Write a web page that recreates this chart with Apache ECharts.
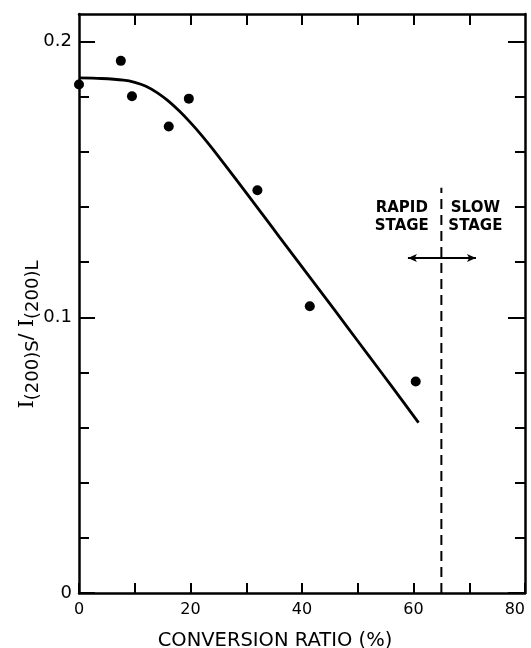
<!DOCTYPE html>
<html>
<head>
<meta charset="utf-8">
<script src="https://cdn.jsdelivr.net/npm/echarts@6/dist/echarts.min.js"></script>
<style>
html,body{margin:0;padding:0;background:#fff;}
#chart{width:531px;height:648px;}
</style>
</head>
<body>
<div id="chart"></div>
<script>
// Measured data points: conversion ratio (%) vs I(200)S / I(200)L
const pointX = [0, 7.5, 9.5, 16.1, 19.7, 32.0, 41.4, 60.4];
const pointY = [0.1844, 0.193, 0.1802, 0.1692, 0.1793, 0.1461, 0.104, 0.0767];

// Fitted curve drawn in the figure
const curveX = [0, 4, 8, 10, 12, 14, 16, 18, 20, 22, 24, 28, 32, 36, 40, 44, 48, 52, 56, 60.9];
const curveY = [0.1868, 0.1866, 0.1860, 0.1852, 0.1838, 0.1815, 0.1785, 0.1748, 0.1706, 0.1660, 0.1610, 0.1505, 0.1398, 0.1290, 0.1183, 0.1076, 0.0968, 0.0860, 0.0752, 0.0618];

// Stage boundary and arrow
const boundaryX = [65, 65];
const boundaryY = [0, 0.147];
const arrowX = [59.0, 71.2];
const arrowY = 0.1215;

// Tick values / labels
const xTickLabels = [0, 20, 40, 60, 80];
const yMajorTicks = [0, 0.1, 0.2];
const yMinorTicks = [0.02, 0.04, 0.06, 0.08, 0.12, 0.14, 0.16, 0.18];
const xTopTicks = [10, 20, 30, 40, 50, 60, 70];

const xTitle = 'CONVERSION RATIO (%)';
const rapidLabel = 'RAPID\nSTAGE';
const slowLabel = 'SLOW\nSTAGE';
const rapidPos = [57.9, 0.1365];
const slowPos = [71.1, 0.1365];

const FONT = 'DejaVu Sans';
const INK = '#000';

const chart = echarts.init(document.getElementById('chart'), null, {renderer: 'canvas'});

function yAxisDef(pos, ticks, len, showLine, showLabel) {
  return {
    type: 'value', position: pos, offset: 0, min: 0, max: 0.21, interval: 0.02,
    splitLine: {show: false},
    axisLine: {show: showLine, onZero: false, lineStyle: {color: INK, width: 2.5}},
    axisTick: {show: true, inside: true, length: len, customValues: ticks, lineStyle: {color: INK, width: 2}},
    axisLabel: showLabel ? {
      show: true, customValues: yMajorTicks, margin: 7, color: INK,
      fontFamily: FONT, fontSize: 18,
      formatter: v => (v === 0 ? '0' : v.toFixed(1))
    } : {show: false}
  };
}

const option = {
  backgroundColor: '#fff',
  animation: false,
  grid: {left: 79, right: 6, top: 14, bottom: 55, containLabel: false, outerBoundsMode: 'none'},
  xAxis: [
    {
      type: 'value', position: 'bottom', min: 0, max: 80, interval: 10,
      splitLine: {show: false},
      axisLine: {onZero: false, lineStyle: {color: INK, width: 2.5}},
      axisTick: {inside: true, length: 10, lineStyle: {color: INK, width: 2}},
      axisLabel: {customValues: xTickLabels, margin: 9, color: INK, fontFamily: FONT, fontSize: 16, alignMaxLabel: 'right'},
      name: xTitle, nameLocation: 'middle', nameGap: 38, nameMoveOverlap: false,
      nameTextStyle: {color: INK, fontFamily: FONT, fontSize: 19.5, padding: [0, 54, 0, 0]}
    },
    {
      type: 'value', position: 'top', min: 0, max: 80, interval: 10,
      splitLine: {show: false},
      axisLine: {onZero: false, lineStyle: {color: INK, width: 2.5}},
      axisTick: {inside: true, length: 11, customValues: xTopTicks, lineStyle: {color: INK, width: 2}},
      axisLabel: {show: false}
    }
  ],
  yAxis: [
    Object.assign(yAxisDef('left', yMajorTicks, 16, true, true), {
      name: '{m|I}{s|(200)S}{n|/ }{m|I}{s|(200)L}',
      nameLocation: 'middle', nameRotate: 90, nameGap: 37, nameMoveOverlap: false,
      nameTextStyle: {
        color: INK, fontFamily: FONT, padding: [0, 62, 0, 0],
        rich: {
          m: {fontSize: 21, fontFamily: 'DejaVu Serif', color: INK, lineHeight: 22, verticalAlign: 'top'},
          n: {fontSize: 20, fontFamily: FONT, color: INK, lineHeight: 22, verticalAlign: 'top'},
          s: {fontSize: 18, fontFamily: FONT, color: INK, lineHeight: 25, verticalAlign: 'bottom'}
        }
      }
    }),
    yAxisDef('left', yMinorTicks, 10, false, false),
    yAxisDef('right', yMajorTicks, 17, true, false),
    yAxisDef('right', yMinorTicks, 10, false, false)
  ],
  series: [
    {
      type: 'line', name: 'curve', xAxisIndex: 0, yAxisIndex: 0,
      data: curveX.map((x, i) => [x, curveY[i]]),
      smooth: 0.3, showSymbol: false, symbol: 'none',
      lineStyle: {color: INK, width: 2.8}, z: 3
    },
    {
      type: 'scatter', name: 'points', xAxisIndex: 0, yAxisIndex: 0,
      data: pointX.map((x, i) => [x, pointY[i]]),
      symbol: 'circle', symbolSize: 10,
      itemStyle: {color: INK, opacity: 1}, z: 4
    },
    {
      type: 'line', name: 'boundary', xAxisIndex: 0, yAxisIndex: 0,
      data: boundaryX.map((x, i) => [x, boundaryY[i]]),
      showSymbol: false, symbol: 'none',
      lineStyle: {color: INK, width: 2, type: [10, 6]}, z: 2,
      markLine: {
        silent: true, symbol: ['arrow', 'arrow'], symbolSize: [6, 9],
        label: {show: false},
        lineStyle: {color: INK, width: 1.8, type: 'solid'},
        data: [[{coord: [arrowX[0], arrowY]}, {coord: [arrowX[1], arrowY]}]]
      },
      markPoint: {
        silent: true, symbol: 'circle', symbolSize: 0,
        label: {
          show: true, position: 'inside', color: INK, fontFamily: FONT,
          fontSize: 15, fontWeight: 'bold', lineHeight: 18, align: 'center'
        },
        data: [
          {coord: rapidPos, value: rapidLabel, label: {formatter: rapidLabel}},
          {coord: slowPos, value: slowLabel, label: {formatter: slowLabel}}
        ]
      }
    }
  ]
};

chart.setOption(option);
</script>
</body>
</html>
